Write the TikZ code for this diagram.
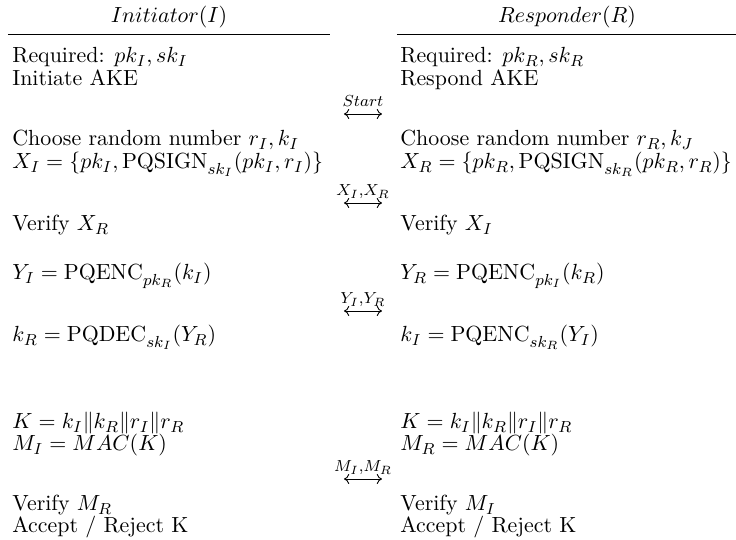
\documentclass[tikz,border=0pt]{standalone}
\usetikzlibrary{arrows.meta}
\begin{document}
\begin{tikzpicture}[x=0.5pt,y=-0.5pt,
  txt/.style={anchor=base west,inner sep=0pt,font=\fontsize{10.95}{13}\selectfont},
  ttl/.style={anchor=base,inner sep=0pt,font=\fontsize{10.95}{13}\selectfont},
  lbl/.style={anchor=base,inner sep=0pt,font=\fontsize{8.5}{10}\selectfont},
  msg/.style={{To[length=2.6pt,width=5pt]}-{To[length=2.6pt,width=5pt]},line width=0.45pt}]
\useasboundingbox (0,0) rectangle (736,540);
% titles and rules
\node[ttl] (ti) at (169,23) {$Initiator(I)$};
\node[ttl] (tr) at (567,23) {$Responder(R)$};
\draw[line width=0.5pt] (8,35) -- (330,35);
\draw[line width=0.5pt] (397,35) -- (736,35);
% left column
\def\lx{12}
\node[txt] (l1) at (\lx,63) {Required: $pk_I, sk_I$};
\node[txt] (l2) at (\lx,86) {Initiate AKE};
\node[txt] (l3) at (\lx,146) {Choose random number $r_I, k_I$};
\node[txt] (l4) at (\lx,169) {$X_I = \{pk_I, \mathrm{PQSIGN}_{sk_I}(pk_I, r_I)\}$};
\node[txt] (l5) at (\lx,231) {Verify $X_R$};
\node[txt] (l6) at (\lx,280) {$Y_I = \mathrm{PQENC}_{pk_R}(k_I)$};
\node[txt] (l7) at (\lx,342) {$k_R = \mathrm{PQDEC}_{sk_I}(Y_R)$};
\node[txt] (l8) at (\lx,429) {$K = k_I\|k_R\|r_I\|r_R$};
\node[txt] (l9) at (\lx,451) {$M_I = MAC(K)$};
\node[txt] (l10) at (\lx,511) {Verify $M_R$};
\node[txt] (l11) at (\lx,533) {Accept / Reject K};
% right column
\def\rx{400}
\node[txt] (r1) at (\rx,63) {Required: $pk_R, sk_R$};
\node[txt] (r2) at (\rx,86) {Respond AKE};
\node[txt] (r3) at (\rx,146) {Choose random number $r_R, k_J$};
\node[txt] (r4) at (\rx,169) {$X_R = \{pk_R, \mathrm{PQSIGN}_{sk_R}(pk_R, r_R)\}$};
\node[txt] (r5) at (\rx,231) {Verify $X_I$};
\node[txt] (r6) at (\rx,280) {$Y_R = \mathrm{PQENC}_{pk_I}(k_R)$};
\node[txt] (r7) at (\rx,342) {$k_I = \mathrm{PQENC}_{sk_R}(Y_I)$};
\node[txt] (r8) at (\rx,429) {$K = k_I\|k_R\|r_I\|r_R$};
\node[txt] (r9) at (\rx,451) {$M_R = MAC(K)$};
\node[txt] (r10) at (\rx,511) {Verify $M_I$};
\node[txt] (r11) at (\rx,533) {Accept / Reject K};
% messages
\foreach \n/\yy/\t in {1/114/{Start},2/203/{X_I{,}X_R},3/311/{Y_I{,}Y_R},4/479/{M_I{,}M_R}}{
  \coordinate (m\n l) at (344,\yy);
  \coordinate (m\n r) at (382,\yy);
  \coordinate (m\n c) at (363,\yy-7);
  \draw[msg] (m\n l) -- (m\n r);
  \node[lbl] (m\n t) at (m\n c) {$\t$};
}
\end{tikzpicture}
\end{document}
